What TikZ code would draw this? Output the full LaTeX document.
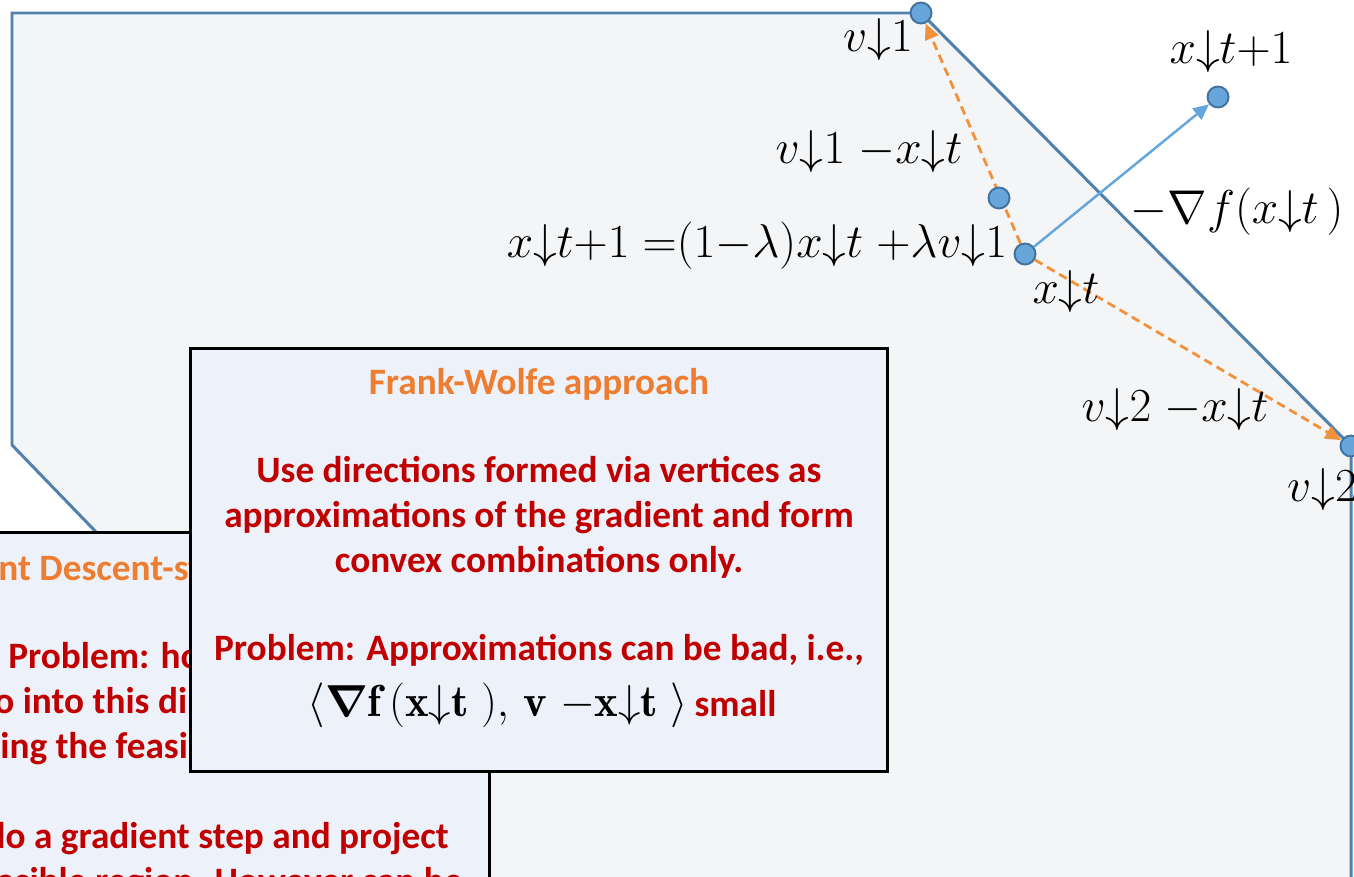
\documentclass[tikz,border=0pt]{standalone}
\usepackage{fix-cm}
\usepackage{amsmath,amssymb}
\usepackage{fontspec}
\newfontfamily\calibri{Carlito}
\definecolor{fwregion}{RGB}{244,245,247}
\definecolor{fwedge}{RGB}{80,128,172}
\definecolor{fwdot}{RGB}{104,166,218}
\definecolor{fwdotline}{RGB}{65,113,156}
\definecolor{fwblue}{RGB}{100,165,220}
\definecolor{fworange}{RGB}{242,145,60}
\definecolor{fwtitle}{RGB}{237,125,49}
\definecolor{fwred}{RGB}{192,0,0}
\definecolor{fwboxfill}{RGB}{237,241,249}
\usetikzlibrary{arrows.meta,positioning}
\newcommand{\dn}[2]{#1{\downarrow}#2}

\begin{document}
\begin{tikzpicture}[x=0.02cm,y=-0.02cm,
  fwpt/.style={circle,draw=fwdotline,fill=fwdot,line width=1.1pt,minimum size=0.42cm,inner sep=0pt},
  fwlabel/.style={font=\fontsize{27}{31}\selectfont,inner sep=0pt},
  fwbox/.style={draw=black,fill=fwboxfill,line width=1.7pt,inner sep=0pt},
  fwtext/.style={font=\calibri\bfseries\fontsize{21.2}{25.5}\selectfont,text=fwred,inner sep=0pt,align=center},
  fwstep/.style={draw=fworange,line width=1.6pt,dash pattern=on 5pt off 3pt,-{Triangle[length=9pt,width=8pt]}},
  fwgrad/.style={draw=fwblue,line width=1.4pt,-{Triangle[length=9pt,width=8pt]}}
]
  \useasboundingbox (0,0) rectangle (1354,876);
  \clip (0,0) rectangle (1354,876);

  % feasible region
  \coordinate (c1) at (921,13);
  \coordinate (c2) at (1351,446);
  \filldraw[fill=fwregion,draw=fwedge,line width=1.7pt]
    (12,13) -- (c1) -- (c2) -- (1351,950) -- (500,950) -- (12,445) -- cycle;

  % points and directions
  \node[fwpt] (v1) at (c1) {};
  \node[fwpt] (v2) at (c2) {};
  \node[fwpt] (xt) at (1025,254) {};
  \node[fwpt] (xt1) at (1218,97) {};
  \draw[fwstep] (xt) -- (v1);
  \draw[fwstep] (xt) -- (v2);
  \draw[fwgrad] (xt) -- (xt1);
  \node[fwpt] (mid) at (999,198) {};

  \node[fwlabel] (lv1) at (878,40) {$\dn{v}{1}$};
  \node[fwlabel] (lxt1) at (1231,52) {$\dn{x}{t}{+}1$};
  \node[fwlabel] (ldir1) at (869,152) {$\dn{v}{1}\;{-}\dn{x}{t}$};
  \node[fwlabel] (lgrad) at (1237,212) {$-\nabla f(\dn{x}{t}\,)$};
  \node[fwlabel] (lupd) at (757,246) {$\dn{x}{t}{+}1\;{=}(1{-}\lambda)\dn{x}{t}\;{+}\lambda\dn{v}{1}$};
  \node[fwlabel] (lxt) at (1066,292) {$\dn{x}{t}$};
  \node[fwlabel] (ldir2) at (1175,410) {$\dn{v}{2}\;{-}\dn{x}{t}$};
  \node[fwlabel] (lv2) at (1322,490) {$\dn{v}{2}$};

  % gradient descent box (behind)
  \node[fwbox,minimum width=11cm,minimum height=9.36cm] (gd) at (215,766) {};
  \node[fwtext,text=fwtitle,anchor=base west] (gdtitle) at (-2,580) {\llap{Gradie}nt Descent-style approach};
  \node[fwtext,anchor=base west] (gdl1) at (8,668) {Problem: how far can we};
  \node[fwtext,anchor=base west] (gdl2) at (-6,713) {\llap{g}o into this direction};
  \node[fwtext,anchor=base west] (gdl3) at (0,758) {\llap{leav}ing the feasible};
  \node[fwtext,anchor=base east] (gdl4) at (449,848) {do a gradient step and project};
  \node[fwtext,anchor=base east] (gdl5) at (463,893) {feasible region. However can be};

  % Frank-Wolfe box
  \node[fwbox,minimum width=13.94cm,minimum height=8.46cm] (fw) at (539,560) {};
  \node[fwtext,text=fwtitle,anchor=base] (fwtitle) at (539,394) {Frank-Wolfe approach};
  \node[fwtext,anchor=base] (fwidea) at (539,572) {Use directions formed via vertices as\\
    approximations of the gradient and form\\ convex combinations only.};
  \node[fwtext,anchor=base] (fwprob) at (539,660) {Problem: Approximations can be bad, i.e.,};
  \node[fwtext,anchor=base] (fwmath) at (542,716) {{\color{black}\fontsize{25.5}{28}\selectfont
    $\langle\boldsymbol{\nabla}\mathbf{f}\,(\mathbf{x}{\downarrow}\mathbf{t}\;),\,\mathbf{v}\;{-}\mathbf{x}{\downarrow}\mathbf{t}\;\rangle$}\,small};
\end{tikzpicture}
\end{document}
